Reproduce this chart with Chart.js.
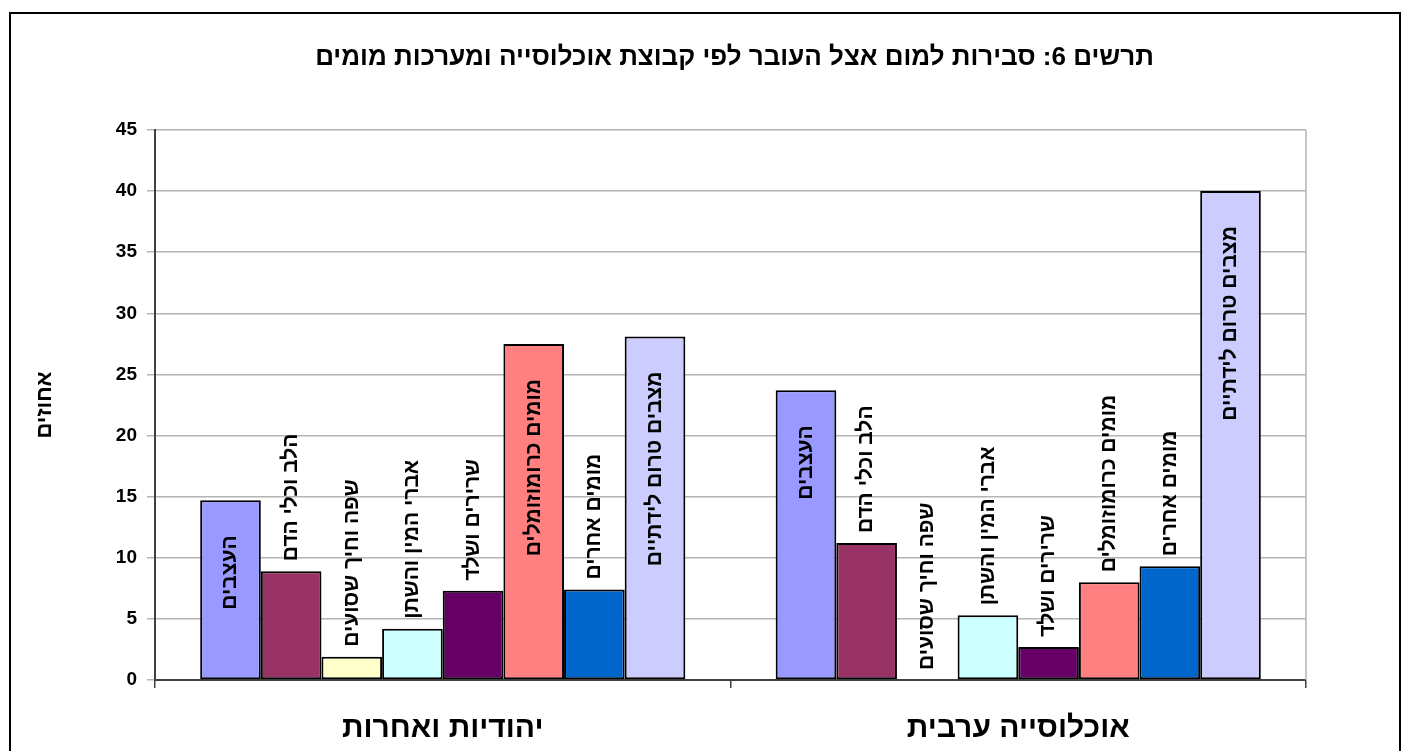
<!DOCTYPE html>
<html lang="he">
<head>
<meta charset="utf-8">
<title>תרשים 6</title>
<script src="https://cdn.jsdelivr.net/npm/chart.js@4.4.0/dist/chart.umd.min.js"></script>
<style>
    html, body { margin: 0; padding: 0; background: #fff; overflow: hidden; }
    #frame {
        position: absolute; left: 9px; top: 12px;
        width: 1388px; height: 800px;
        border: 2px solid #000;
    }
    #myChart { position: absolute; left: 0; top: 0; }
</style>
</head>
<body>
<div id="frame"></div>
<canvas id="myChart" width="1403" height="751"></canvas>

<script>
// categories (population groups)
const categories = ['יהודיות ואחרות', 'אוכלוסייה ערבית'];

// defect systems, in bar order
const seriesNames = [
    'העצבים',
    'הלב וכלי הדם',
    'שפה וחיך שסועים',
    'אברי המין והשתן',
    'שרירים ושלד',
    'מומים כרומוזומלים',
    'מומים אחרים',
    'מצבים טרום לידתיים'
];

// percent values per series: [Jewish & others, Arab population]
const nervous     = [14.7, 23.7];
const heart       = [8.9, 11.2];
const cleft       = [1.9, 0];
const urogenital  = [4.2, 5.3];
const musculo     = [7.3, 2.7];
const chromosomal = [27.5, 8.0];
const otherDef    = [7.4, 9.3];
const prenatal    = [28.1, 40.0];

const yTicks = [0, 5, 10, 15, 20, 25, 30, 35, 40, 45];

const chartTitle = 'תרשים 6: סבירות למום אצל העובר לפי קבוצת אוכלוסייה ומערכות מומים';

const seriesValues = [nervous, heart, cleft, urogenital, musculo, chromosomal, otherDef, prenatal];
const seriesColors = ['#9999FF', '#993366', '#FFFFCC', '#CCFFFF', '#660066', '#FF8080', '#0066CC', '#CCCCFF'];

const FONT = '"Liberation Sans", Arial, sans-serif';

// rotated labels: inside the bar when they fit, else above it
const barLabels = {
    id: 'barLabels',
    afterDatasetsDraw(chart) {
        const ctx = chart.ctx;
        const insidePad = 35, outsidePad = 10;
        ctx.save();
        ctx.font = 'bold 21px ' + FONT;
        ctx.fillStyle = '#000';
        ctx.textBaseline = 'middle';
        chart.data.datasets.forEach((ds, i) => {
            chart.getDatasetMeta(i).data.forEach(bar => {
                const w = ctx.measureText(ds.label).width;
                const h = bar.base - bar.y;
                ctx.save();
                if (w + 2 * insidePad < h) {
                    ctx.translate(bar.x, bar.y + insidePad);
                    ctx.textAlign = 'right';
                } else {
                    ctx.translate(bar.x, bar.y - outsidePad);
                    ctx.textAlign = 'left';
                }
                ctx.rotate(-Math.PI / 2);
                ctx.fillText(ds.label, 0, 0);
                ctx.restore();
            });
        });
        ctx.restore();
    }
};

// grey right edge of the plot area + title centred over the plot
const plotExtras = {
    id: 'plotExtras',
    beforeDatasetsDraw(chart) {
        const { ctx, chartArea } = chart;
        ctx.save();
        ctx.strokeStyle = '#b4b4b4';
        ctx.lineWidth = 1.5;
        ctx.beginPath();
        ctx.moveTo(chartArea.right, chartArea.top);
        ctx.lineTo(chartArea.right, chartArea.bottom);
        ctx.stroke();
        ctx.restore();
    },
    afterDraw(chart) {
        const { ctx, chartArea } = chart;
        ctx.save();
        ctx.font = 'bold 26px ' + FONT;
        ctx.fillStyle = '#000';
        ctx.textAlign = 'center';
        ctx.textBaseline = 'middle';
        ctx.fillText(chartTitle, (chartArea.left + chartArea.right) / 2 + 4, 58);
        ctx.restore();
    }
};

const ctx = document.getElementById('myChart').getContext('2d');
new Chart(ctx, {
    type: 'bar',
    data: {
        labels: categories,
        datasets: seriesNames.map((name, i) => ({
            label: name,
            data: seriesValues[i],
            backgroundColor: seriesColors[i],
            borderColor: '#000',
            borderWidth: 2,
            borderSkipped: false,
            categoryPercentage: 0.843,
            barPercentage: 1
        }))
    },
    options: {
        responsive: false,
        animation: false,
        devicePixelRatio: 1,
        layout: { padding: { left: 0, right: 97, top: 130, bottom: 0 } },
        plugins: {
            legend: { display: false },
            tooltip: { enabled: false },
            title: { display: false }
        },
        scales: {
            x: {
                grid: { display: true, drawOnChartArea: false, drawTicks: true, tickLength: 8, color: '#404040', lineWidth: 1.5 },
                border: { display: true, color: '#404040', width: 2 },
                ticks: { color: '#000', font: { family: FONT, size: 30, weight: 'bold' }, padding: 23, maxRotation: 0 },
                afterFit(scale) { scale.height = 71; }
            },
            y: {
                min: 0,
                max: 45,
                afterBuildTicks(scale) { scale.ticks = yTicks.map(v => ({ value: v })); },
                grid: { color: '#b4b4b4', lineWidth: 1.5, tickLength: 8 },
                border: { display: true, color: '#404040', width: 2 },
                ticks: { color: '#000', font: { family: FONT, size: 19, weight: 'bold' }, padding: 10 },
                title: {
                    display: true,
                    text: 'אחוזים',
                    color: '#000',
                    font: { family: FONT, size: 22, weight: 'bold' },
                    padding: { top: 32, bottom: 0 }
                },
                afterFit(scale) { scale.width = 155; }
            }
        }
    },
    plugins: [barLabels, plotExtras]
});
</script>
</body>
</html>
